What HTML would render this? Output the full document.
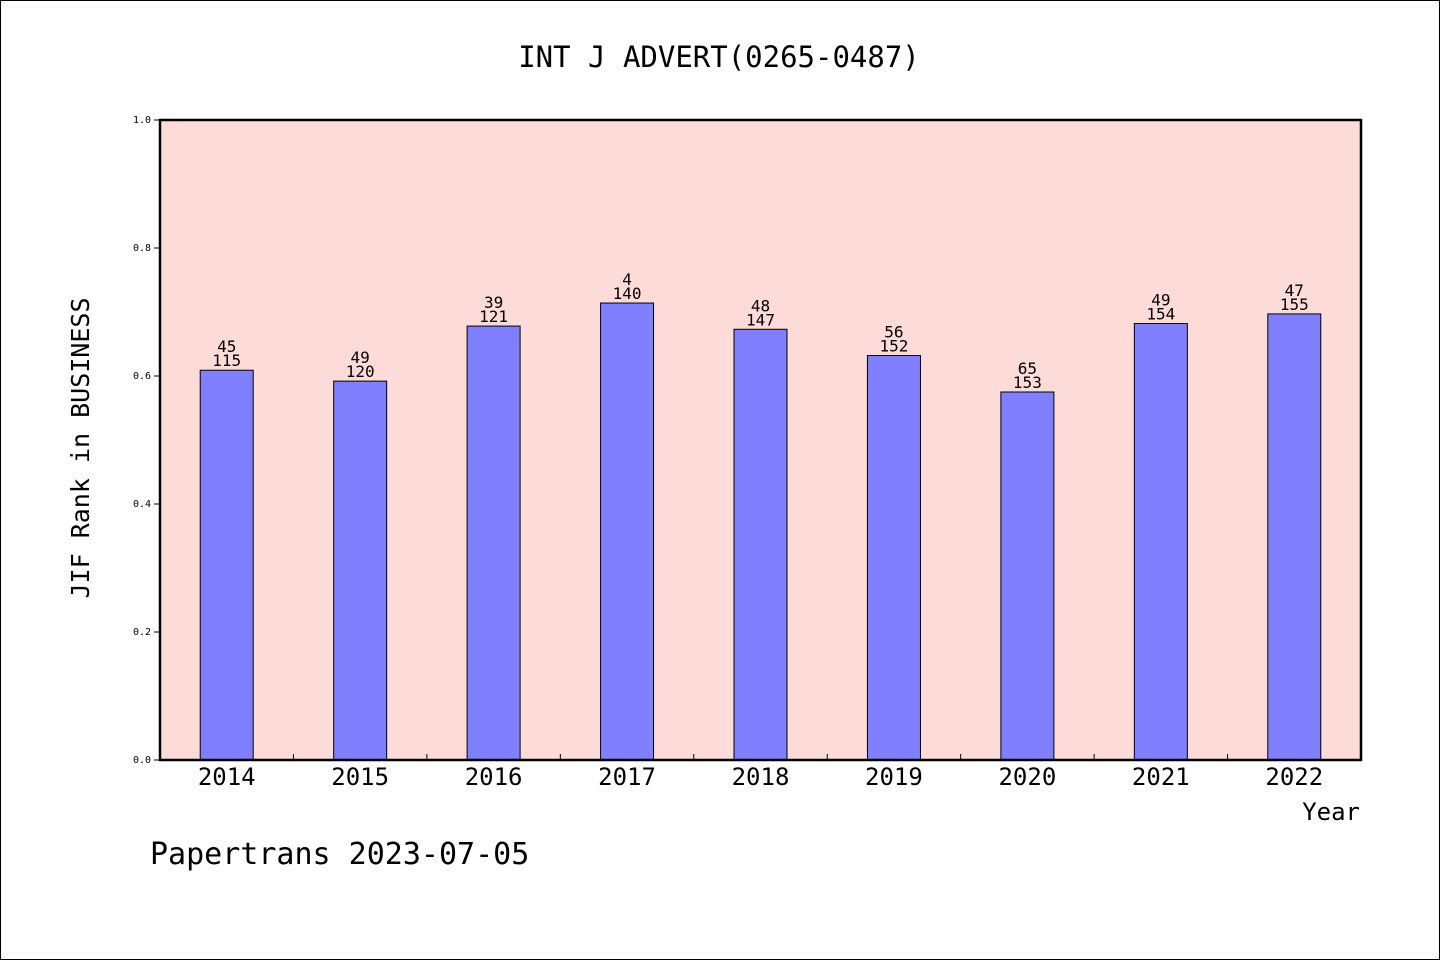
<!DOCTYPE html>
<html><head><meta charset="utf-8"><style>
html,body{margin:0;padding:0;background:#fff}
svg{display:block}
text{font-family:"DejaVu Sans Mono","Liberation Mono",monospace;fill:#000}
</style></head><body>
<svg id="chart" width="1440" height="960" viewBox="0 0 1440 960" xmlns="http://www.w3.org/2000/svg">
<rect x="0.5" y="0.5" width="1439" height="959" fill="#fff" stroke="#000" stroke-width="1"/>
<text x="719" y="67" font-size="29" text-anchor="middle">INT J ADVERT(0265-0487)</text>
<rect x="160" y="120" width="1201" height="640" fill="#fddbd8"/>
<g id="yaxis"></g>
<g id="bars"></g>
<g id="xaxis"></g>
<rect x="160" y="120" width="1201" height="640" fill="none" stroke="#000" stroke-width="2.5"/>
<text transform="translate(89,448) rotate(-90)" font-size="25" text-anchor="middle">JIF Rank in BUSINESS</text>
<text x="1360" y="820" font-size="24" text-anchor="end">Year</text>
<text x="150" y="864" font-size="30">Papertrans 2023-07-05</text>
</svg>
<script>
const categories = ["2014","2015","2016","2017","2018","2019","2020","2021","2022"];
const values = [0.609,0.592,0.678,0.714,0.673,0.632,0.575,0.682,0.697];
const rankLabels = ["45","49","39","4","48","56","65","49","47"];
const totalLabels = ["115","120","121","140","147","152","153","154","155"];
const yTicks = [0,0.2,0.4,0.6,0.8,1.0];
const tickLabels = ["0.0","0.2","0.4","0.6","0.8","1.0"];

const NS = "http://www.w3.org/2000/svg";
const X0 = 160, X1 = 1361, Y0 = 760, Y1 = 120;
const band = (X1 - X0) / categories.length;
const barW = 53;
function y(v){ return Y0 - (v - 0) / (1 - 0) * (Y0 - Y1); }
function xc(i){ return X0 + band * (i + 0.5); }
function mk(tag, attrs, parent){ const e = document.createElementNS(NS, tag); for (const k in attrs) e.setAttribute(k, attrs[k]); parent.appendChild(e); return e; }

const ya = document.getElementById("yaxis");
yTicks.forEach((t, i) => {
  const ln = mk("line", {x1: X0 - 6, x2: X0, y1: y(t), y2: y(t), stroke: "#000", "stroke-width": 1}, ya);
  
  
  const tx = mk("text", {x: X0 - 9, y: y(t) + 3, "font-size": 10, "text-anchor": "end"}, ya);
  tx.textContent = tickLabels[i];
  
  
});

const bg = document.getElementById("bars");
const xa = document.getElementById("xaxis");
categories.forEach((c, i) => {
  const cx = xc(i), top = y(values[i]);
  const r = mk("rect", {x: cx - barW / 2, y: top, width: barW, height: Y0 - top, fill: "#8080ff", stroke: "#000", "stroke-width": 1}, bg);
  
  
  const t1 = mk("text", {x: cx, y: top - 18, "font-size": 16, "text-anchor": "middle"}, bg);
  t1.textContent = rankLabels[i];
  
  
  const t2 = mk("text", {x: cx, y: top - 4, "font-size": 16, "text-anchor": "middle"}, bg);
  t2.textContent = totalLabels[i];
  
  
  const xl = mk("text", {x: cx, y: 785, "font-size": 24, "text-anchor": "middle"}, xa);
  xl.textContent = c;
  
  
  if (i > 0) {
    const tk = mk("line", {x1: X0 + band * i, x2: X0 + band * i, y1: Y0 - 6, y2: Y0, stroke: "#000", "stroke-width": 1}, xa);
    
    
  }
});
</script>
</body></html>
